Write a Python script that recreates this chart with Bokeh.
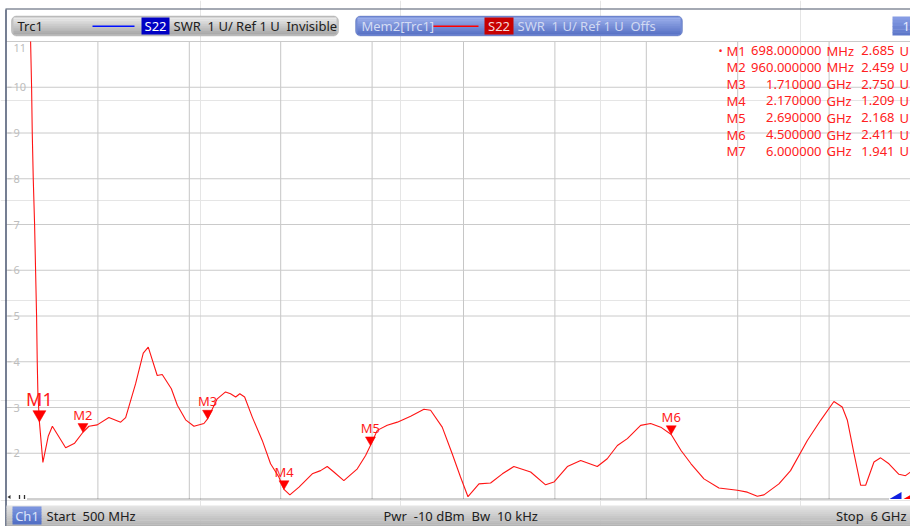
import numpy as np
from bokeh.plotting import figure
from bokeh.models import Range1d, BoxAnnotation, ColumnDataSource
from bokeh.core.properties import value
from bokeh.embed import file_html
from bokeh.resources import INLINE

# ---------------- data ----------------
start_mhz, stop_mhz, div_mhz = 500, 6000, 550
freq_mhz = [645, 651, 655, 661, 669, 675, 681, 685, 689, 698,
            719, 751, 776, 856, 910, 960, 996, 1046, 1116, 1187,
            1217, 1277, 1323, 1353, 1407, 1437, 1492, 1528, 1578, 1628,
            1688, 1710, 1768, 1818, 1848, 1879, 1904, 1933, 1979, 2039,
            2089, 2139, 2170, 2205, 2260, 2340, 2390, 2430, 2470, 2530,
            2611, 2661, 2690, 2731, 2791, 2852, 2932, 3012, 3052, 3122,
            3182, 3232, 3277, 3343, 3413, 3484, 3553, 3654, 3744, 3794,
            3875, 3955, 4055, 4115, 4176, 4236, 4316, 4376, 4437, 4500,
            4559, 4619, 4697, 4787, 4898, 4958, 5018, 5058, 5148, 5218,
            5319, 5399, 5479, 5529, 5560, 5600, 5640, 5670, 5720, 5760,
            5810, 5870, 5910, 5940, 6000]
swr = [11.0, 10.0, 9.0, 8.0, 7.0, 6.0, 5.0, 4.0, 3.3, 2.685,
       1.80, 2.37, 2.59, 2.12, 2.22, 2.459, 2.59, 2.62, 2.78, 2.68,
       2.78, 3.52, 4.19, 4.32, 3.70, 3.72, 3.41, 3.05, 2.73, 2.59,
       2.65, 2.750, 3.19, 3.34, 3.30, 3.23, 3.30, 3.23, 2.79, 2.28,
       1.77, 1.48, 1.209, 1.09, 1.26, 1.55, 1.62, 1.71, 1.59, 1.40,
       1.66, 1.95, 2.168, 2.50, 2.61, 2.68, 2.81, 2.96, 2.94, 2.57,
       1.99, 1.48, 1.05, 1.33, 1.35, 1.55, 1.71, 1.59, 1.31, 1.37,
       1.71, 1.84, 1.71, 1.88, 2.17, 2.32, 2.61, 2.65, 2.57, 2.411,
       2.06, 1.77, 1.44, 1.24, 1.19, 1.15, 1.06, 1.09, 1.33, 1.62,
       2.28, 2.72, 3.13, 3.01, 2.72, 1.99, 1.30, 1.30, 1.81, 1.90,
       1.77, 1.54, 1.51, 1.59, 1.941]
assert len(freq_mhz) == len(swr)

marker_names = ["M1", "M2", "M3", "M4", "M5", "M6", "M7"]
marker_freq_mhz = [698, 960, 1710, 2170, 2690, 4500, 6000]
marker_swr = [2.685, 2.459, 2.750, 1.209, 2.168, 2.411, 1.941]
active_marker = "M1"

x_grid_mhz = [1050, 1600, 2150, 2700, 3250, 3800, 4350, 4900, 5450, 6000]
y_grid = [2, 3, 4, 5, 6, 7, 8, 9, 10, 11]
y_tick_labels = ["2", "3", "4", "5", "6", "7", "8", "9", "10"]
y_min, y_max = 1, 11

# ---------------- layout (pixels) ----------------
W, H = 910, 526
X0_PX = 6.0            # pixel of start frequency
DIV_PX = 91.4          # pixels per division
Y_TOP_PX, Y_BOT_PX = 41.0, 498.5
FONT = value("Noto Sans")

p = figure(width=W, height=H, x_range=Range1d(0, W), y_range=Range1d(H, 0),
           output_backend="svg", toolbar_location=None, title=None,
           x_axis_location=None, y_axis_location=None, min_border=0,
           outline_line_color=None, background_fill_color="white",
           border_fill_color="white")

mpp = div_mhz / DIV_PX
ppu = (Y_BOT_PX - Y_TOP_PX) / (y_max - y_min)
f_end = start_mhz + (W - X0_PX) * mpp
p.extra_x_ranges = {"f": Range1d(start_mhz - X0_PX * mpp, f_end)}
p.extra_y_ranges = {"s": Range1d(y_min - (H - Y_BOT_PX) / ppu, y_max + Y_TOP_PX / ppu)}
FS = dict(x_range_name="f", y_range_name="s")


def hexcol(c):
    c = c.lstrip("#")
    return [int(c[i:i + 2], 16) for i in (0, 2, 4)]


def lerp(c0, c1, t):
    a, b = hexcol(c0), hexcol(c1)
    return "#%02x%02x%02x" % tuple(int(round(a[i] + (b[i] - a[i]) * t)) for i in range(3))


def gradient(l, r, t, b, c0, c1, n=10):
    ys = np.linspace(t, b, n + 1)
    cols = [lerp(c0, c1, (i + 0.5) / n) for i in range(n)]
    p.quad(left=l, right=r, top=ys[:-1], bottom=np.minimum(ys[1:] + 0.4, b),
           fill_color=cols, line_color=None)


def rbox(l, r, t, b, c0, c1, border, radius=5):
    p.add_layout(BoxAnnotation(left=l, right=r, top=t, bottom=b, fill_color=lerp(c0, c1, 0.6),
                               fill_alpha=1, line_color=border, line_width=1,
                               border_radius=radius, level="underlay"))
    gradient(l + 2, r - 2, t + 1.5, b - 1.5, c0, c1)


def txt(x, y, s, color="#202020", size="12px", align="left", baseline="middle", **kw):
    p.text(x=[x], y=[y], text=[s], text_color=color, text_font=FONT, text_font_size=size,
           text_align=align, text_baseline=baseline, **kw)


# ---------------- grid ----------------
p.segment(x0=x_grid_mhz, x1=x_grid_mhz, y0=y_min, y1=y_max, line_color="#c6c6c6", line_width=1, **FS)
p.segment(x0=start_mhz, x1=stop_mhz, y0=y_grid, y1=y_grid, line_color="#cacaca", line_width=1, **FS)

# y tick labels inside the plot
tick_vals = [float(t) for t in y_tick_labels]
p.segment(x0=7, x1=11, y0=tick_vals, y1=tick_vals, line_color="#c0c0c0", line_width=1, y_range_name="s")
p.text(x=13, y=tick_vals, text=y_tick_labels, text_color="#bdbdbd",
       text_font=FONT, text_font_size="11px", text_baseline="middle", y_range_name="s")
txt(13, 47.5, str(y_max), color="#bdbdbd", size="11px")

# reference line (dotted) and small bottom-left marks
p.segment(x0=27, x1=889, y0=y_min, y1=y_min, line_color="#404040", line_width=1,
          line_dash="1 1", y_range_name="s")
p.segment(x0=[19, 24], x1=[19, 24], y0=[494.5, 494.5], y1=[498.5, 498.5], line_color="#303030", line_width=1.3)
p.patch(x=[7, 10, 10], y=[496.5, 494.5, 498.5], fill_color="#303030", line_color=None)

# out-of-range indicators bottom right
p.patch(x=[889, 901, 901], y=[498.5, 498.5, 491.5], fill_color="#1020e0", line_color=None)
p.patch(x=[903, 915, 915], y=[498.5, 498.5, 491.5], fill_color="#ff0000", line_color=None)

# ---------------- trace ----------------
p.line(x=freq_mhz, y=swr, line_color="#ff1414", line_width=1.1, **FS)

# ---------------- markers (only those inside the visible span) ----------------
vis = [i for i, f in enumerate(marker_freq_mhz) if f < f_end]
sizes = [13 if marker_names[i] == active_marker else 10 for i in vis]
lab_off = [23 if marker_names[i] == active_marker else 17.5 for i in vis]
msrc = ColumnDataSource(dict(
    x=[marker_freq_mhz[i] for i in vis],
    ytri=[marker_swr[i] + 0.577 * s / ppu for i, s in zip(vis, sizes)],
    ylab=[marker_swr[i] + o / ppu for i, o in zip(vis, lab_off)],
    name=[marker_names[i] for i in vis],
    fs=["18px" if marker_names[i] == active_marker else "13px" for i in vis],
    size=sizes))
p.scatter(x="x", y="ytri", size="size", marker="inverted_triangle", source=msrc,
          fill_color="#ff0000", line_color="#ff0000", line_width=0.5, **FS)
p.text(x="x", y="ylab", text="name", source=msrc, text_color="#ff1a1a", text_font=FONT,
       text_font_size="fs", text_align="center", text_baseline="alphabetic", **FS)

# marker table (top right)
row_y0, row_dy = 50.0, 16.8
for i, (n, f, v) in enumerate(zip(marker_names, marker_freq_mhz, marker_swr)):
    y = row_y0 + i * row_dy
    if f < 1000:
        fs_, unit = f"{f:.6f}", "MHz"
    else:
        fs_, unit = f"{f / 1000:.6f}", "GHz"
    col = "#ff2020"
    if n == active_marker:
        txt(718, y, "\u2022", color=col, size="11px")
    txt(726, y, n, color=col, size="13px")
    txt(821, y, fs_, color=col, size="13px", align="right")
    txt(826, y, unit, color=col, size="13px")
    txt(894, y, f"{v:.3f}", color=col, size="13px", align="right")
    txt(899, y, "U", color=col, size="13px")

# ---------------- window frame / header ----------------
p.segment(x0=5, x1=W, y0=8.5, y1=8.5, line_color="#4a5468", line_width=1.2)
p.segment(x0=5.5, x1=5.5, y0=9, y1=H, line_color="#2c3a58", line_width=1.3)

# Trc1 bar
rbox(11, 338, 15.5, 35.5, "#ececec", "#a6a6a6", "#8a8a8a")
txt(17, 25.5, "Trc1", size="13px")
p.segment(x0=92, x1=134, y0=25.7, y1=25.7, line_color="#0010ff", line_width=1.5)
p.quad(left=141, right=169, top=17, bottom=34, fill_color="#0000c4", line_color=None)
txt(155, 25.5, "S22", color="white", size="13px", align="center")
txt(173, 25.5, "SWR\u00a0\u00a01 U/ Ref 1 U\u00a0\u00a0Invisible", size="13px")

# Mem2 bar
rbox(355, 682, 15.5, 35.5, "#9db0ec", "#5670c4", "#4a5fa8")
txt(361, 25.5, "Mem2[Trc1]", color="#d4dcf4", size="13px")
p.segment(x0=433, x1=478, y0=25.7, y1=25.7, line_color="#ff0000", line_width=1.5)
p.quad(left=484, right=513, top=17, bottom=34, fill_color="#c80000", line_color=None)
txt(498.5, 25.5, "S22", color="#f4dada", size="13px", align="center")
txt(517, 25.5, "SWR\u00a0\u00a01 U/ Ref 1 U\u00a0\u00a0Offs", color="#d0d8f2", size="13px")

# channel box top right
gradient(892, W, 16, 35, "#8aa0e6", "#5a74c8", n=6)
txt(902, 25.5, "1", color="#e4eaff", size="13px")

# ---------------- status bar ----------------
gradient(6, W, 505, H, "#e6e6e6", "#b0b0b0", n=10)
gradient(12, 41, 506, 524, "#7f98e0", "#4f6cc4", n=6)
txt(26.5, 515.5, "Ch1", color="#dce4fa", size="13px", align="center")
txt(46, 515.5, "Start\u00a0\u00a0500 MHz", size="13px")
txt(383, 515.5, "Pwr\u00a0\u00a0-10 dBm\u00a0\u00a0Bw\u00a0\u00a010 kHz", size="13px")
txt(906, 515.5, "Stop\u00a0 6 GHz", size="13px", align="right")

open("out.html", "w").write(file_html(p, INLINE))
